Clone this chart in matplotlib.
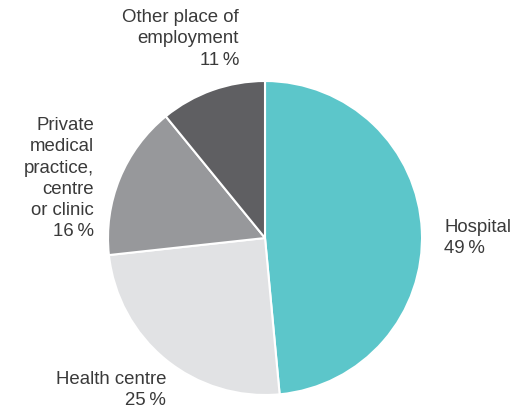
import matplotlib.pyplot as plt

plt.rcParams["font.family"] = ["Liberation Sans", "DejaVu Sans"]

# data
categories = ["Hospital", "Health centre", "Private\nmedical\npractice,\ncentre\nor clinic", "Other place of\nemployment"]
shares = [49, 25, 16, 11]
colors = ["#5cc6ca", "#e1e2e4", "#97989b", "#5f5f62"]

W, H = 515, 411
fig = plt.figure(figsize=(W / 100, H / 100), dpi=100)

# pie centre and radius in pixels
cx, cy, r = 265, 238, 157
ax = fig.add_axes([(cx - r) / W, (H - cy - r) / H, 2 * r / W, 2 * r / H])
ax.pie(shares, colors=colors, startangle=90, counterclock=False, radius=1,
       wedgeprops=dict(edgecolor="white", linewidth=1.5))
ax.set_xlim(-1, 1)
ax.set_ylim(-1, 1)
ax.set_aspect("equal")
ax.axis("off")

# label anchors (pixels): x, y of top line centre, alignment
label_pos = [(444, 228, "left"), (166, 380, "right"), (94, 126, "right"), (239, 18, "right")]
for cat, val, (x, y, ha) in zip(categories, shares, label_pos):
    fig.text(x / W, 1 - (y - 9) / H, f"{cat}\n{val}\u2009%", ha=ha, va="top",
             multialignment=ha, fontsize=13.4, color="#3a3a3a", linespacing=1.33)

fig.savefig("out.png", dpi=100)
